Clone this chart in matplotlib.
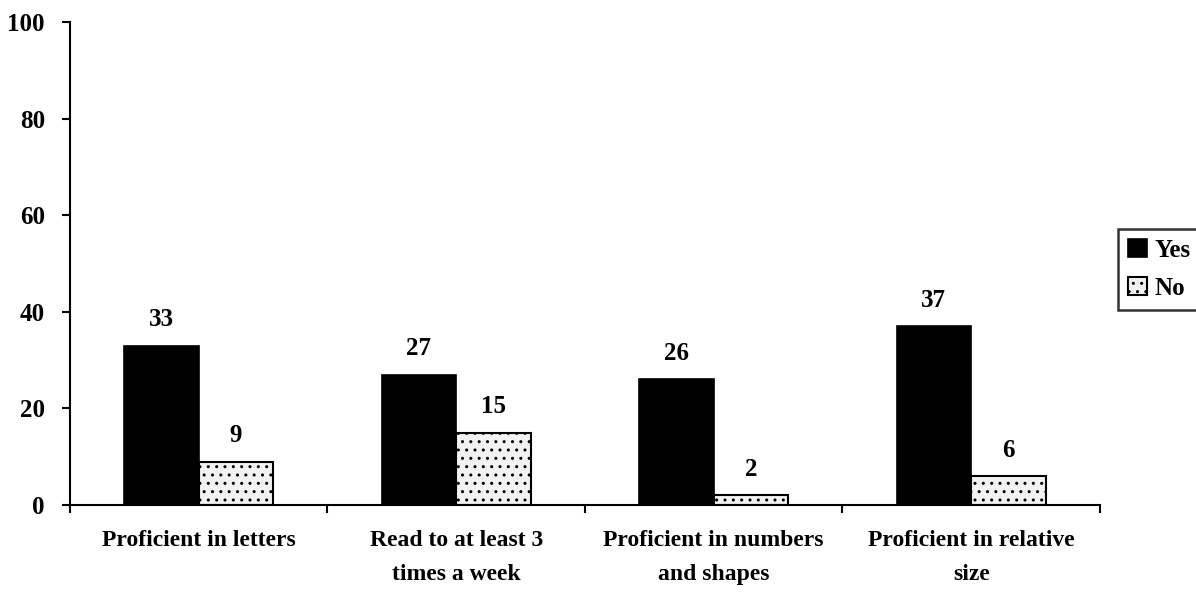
import matplotlib
matplotlib.use("Agg")
import matplotlib.pyplot as plt
import numpy as np

categories = ["Proficient in letters", "Read to at least 3\ntimes a week",
              "Proficient in numbers\nand shapes", "Proficient in relative\nsize"]
yes_values = [33, 27, 26, 37]
no_values = [9, 15, 2, 6]
series_names = ["Yes", "No"]
y_ticks = [0, 20, 40, 60, 80, 100]

plt.rcParams["font.family"] = ["Liberation Serif", "DejaVu Serif"]
plt.rcParams["font.weight"] = "bold"
plt.rcParams["hatch.color"] = "#8a8a8a"
plt.rcParams["hatch.linewidth"] = 1.0

fig = plt.figure(figsize=(11.96, 5.92), dpi=100)
ax = fig.add_axes([0.0585, 0.147, 0.8612, 0.8158])

x = np.arange(len(categories))
w = 0.29
b1 = ax.bar(x - w / 2, yes_values, w, color="black", edgecolor="black",
            linewidth=1.2, label=series_names[0])
b2 = ax.bar(x + w / 2, no_values, w, facecolor="#f2f2f2", edgecolor="black",
            linewidth=1.5, hatch="..", label=series_names[1])

for rects, vals in ((b1, yes_values), (b2, no_values)):
    for r, v in zip(rects, vals):
        ax.text(r.get_x() + r.get_width() / 2, v + 3.0, str(v),
                ha="center", va="bottom", fontsize=18, fontweight="bold")

ax.set_xlim(-0.5, len(categories) - 0.5)
ax.set_ylim(0, 100)
ax.set_yticks(y_ticks)
ax.set_yticklabels([str(t) for t in y_ticks], fontsize=18, fontweight="bold")
ax.tick_params(axis="y", direction="out", length=6, width=1.5, pad=12)

ax.set_xticks(np.arange(len(categories) + 1) - 0.5)
ax.set_xticklabels([])
ax.tick_params(axis="x", direction="out", length=6, width=1.5)
for xi, lab in zip(x, categories):
    ax.text(xi, -5.2, lab, ha="center", va="top", fontsize=17,
            fontweight="bold", linespacing=1.8,
            transform=ax.transData)

for side in ("top", "right"):
    ax.spines[side].set_visible(False)
for side in ("left", "bottom"):
    ax.spines[side].set_linewidth(1.5)

leg = fig.legend(handles=[b1, b2], labels=series_names, loc="upper left",
                 bbox_to_anchor=(1118 / 1196, 1 - 229 / 592),
                 frameon=True, fancybox=False, edgecolor="black",
                 fontsize=18, handlelength=0.75, handleheight=0.75,
                 handletextpad=0.3, borderpad=0.4, labelspacing=0.6,
                 borderaxespad=0)
leg.get_frame().set_linewidth(1.8)
for t in leg.get_texts():
    t.set_fontweight("bold")

fig.savefig("out.png", dpi=100, facecolor="white")
